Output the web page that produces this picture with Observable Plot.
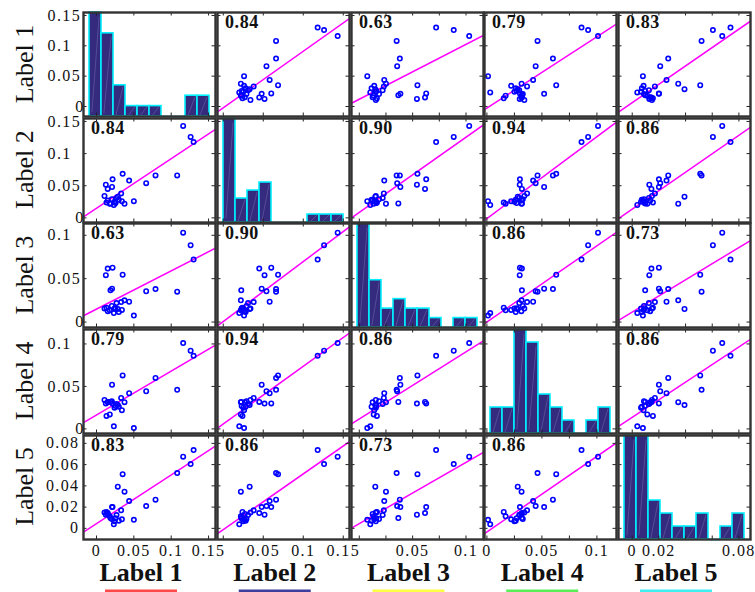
<!DOCTYPE html>
<html>
<head>
<meta charset="utf-8">
<script src="https://cdn.jsdelivr.net/npm/d3@7"></script>
<script src="https://cdn.jsdelivr.net/npm/@observablehq/plot@0.6"></script>
<style>
  html, body { margin: 0; padding: 0; background: #fff; }
  #chart { position: relative; width: 755px; height: 592px; overflow: hidden; background: #fff; }
  #chart svg { position: absolute; overflow: visible; }
  #chart g[aria-label="text"] { letter-spacing: 1.4px; }
  #chart g[aria-label="text"][font-weight="bold"] { letter-spacing: 0.6px; }
</style>
</head>
<body>
<div id="chart"></div>
<script>
// ---------------- data ----------------
const variables = ["Label 1", "Label 2", "Label 3", "Label 4", "Label 5"];

// 28 observations per variable (same observation order in every list)
const label1 = [0.116, 0.126, 0.130, 0.108, 0.079, 0.0665, 0.050, 0.035, 0.0285, 0.0375, 0.0437, 0.0208, 0.0125, 0.015, 0.0215, 0.0232, 0.0187, 0.0107, 0.0134, 0.0151, 0.0178, 0.0205, 0.0241, 0.0268, 0.0299, 0.033, 0.034, 0.0255];
const label2 = [0.143, 0.126, 0.118, 0.066, 0.066, 0.054, 0.026, 0.0685, 0.033, 0.022, 0.058, 0.048, 0.0516, 0.045, 0.060, 0.020, 0.0225, 0.034, 0.024, 0.027, 0.022, 0.029, 0.025, 0.031, 0.028, 0.038, 0.026, 0.023];
const label3 = [0.103, 0.0885, 0.072, 0.035, 0.038, 0.0355, 0.0075, 0.0545, 0.015, 0.025, 0.0234, 0.0385, 0.054, 0.0616, 0.0627, 0.0103, 0.0366, 0.0155, 0.0165, 0.0125, 0.0135, 0.0185, 0.0155, 0.0219, 0.0115, 0.023, 0.014, 0.016];
const label4 = [0.101, 0.092, 0.086, 0.046, 0.060, 0.0443, 0.001, 0.063, 0.028, 0.0315, 0.042, 0.052, 0.0298, 0.0318, 0.030, 0.003, 0.0318, 0.034, 0.0153, 0.0313, 0.017, 0.0326, 0.025, 0.0294, 0.0262, 0.0365, 0.022, 0.027];
const label5 = [0.0675, 0.0605, 0.0737, 0.052, 0.027, 0.021, 0.008, 0.051, 0.0392, 0.0345, 0.0257, 0.020, 0.0128, 0.0144, 0.020, 0.0038, 0.0097, 0.0148, 0.0155, 0.0135, 0.0113, 0.0088, 0.0066, 0.0125, 0.0072, 0.017, 0.0085, 0.0095];

// correlation labels for pairs (1,2),(1,3),(1,4),(1,5),(2,3),(2,4),(2,5),(3,4),(3,5),(4,5)
const correlations = ["0.84", "0.63", "0.79", "0.83", "0.90", "0.94", "0.86", "0.86", "0.73", "0.86"];

// axis limits and ticks per variable
const xLimits = [[-0.0174, 0.1593], [-0.0072, 0.1578], [-0.0073, 0.1164], [-0.0022, 0.1178], [-0.0103, 0.0887]];
const yLimits = [[-0.0165, 0.1549], [-0.0072, 0.1546], [-0.0063, 0.1136], [-0.0054, 0.1170], [-0.0105, 0.0874]];
const xTicks = [[0, 0.05, 0.1, 0.15], [0, 0.05, 0.1, 0.15], [0, 0.025, 0.05, 0.075, 0.1], [0, 0.025, 0.05, 0.075, 0.1], [0, 0.02, 0.04, 0.06, 0.08]];
const xTickLabels = [["0", "0.05", "0.1", "0.15"], ["0.05", "0.1", "0.15"], ["0.05", "0.1"], ["0", "0.05", "0.1"], ["0", "0.02", "0.08"]];
const yTicks = [[0, 0.05, 0.1, 0.15], [0, 0.05, 0.1, 0.15], [0, 0.05, 0.1], [0, 0.05, 0.1], [0, 0.02, 0.04, 0.06, 0.08]];
const yTickLabels = [["0", "0.05", "0.1", "0.15"], ["0", "0.05", "0.1", "0.15"], ["0", "0.05", "0.1"], ["0", "0.05", "0.1"], ["0", "0.02", "0.04", "0.06", "0.08"]];
const nBins = 10;
const underlineColors = ["#ff4848", "#3d3d9e", "#ffff44", "#58ee58", "#40eef0"];

// ---------------- layout ----------------
const rowTops = [12, 117.6, 223.2, 328.9, 434.5];
const colLefts = [83, 216.75, 350.5, 484.25, 618];
const W = 132, H = 104;
const serif = "'Liberation Serif', 'Times New Roman', Times, serif";
const frameColor = "#333333";

const series = [label1, label2, label3, label4, label5];
const table = label1.map((_, k) => Object.fromEntries(variables.map((v, i) => [v, series[i][k]])));
const chart = document.getElementById("chart");

function corrLabel(i, j) {
  const a = Math.min(i, j), b = Math.max(i, j);
  let idx = 0;
  for (let r = 0; r < a; r++) idx += 4 - r;
  return correlations[idx + b - a - 1];
}

function place(svg, left, top) {
  svg.style.left = left + "px";
  svg.style.top = top + "px";
  chart.appendChild(svg);
}

// histogram layer (own scale: data range inset in the panel)
function histogram(i) {
  const vals = series[i];
  const [lo, hi] = d3.extent(vals);
  const w = (hi - lo) / nBins;
  const counts = new Array(nBins).fill(0);
  vals.forEach(v => counts[Math.min(nBins - 1, Math.floor((v - lo) / w))]++);
  const bins = counts.map((c, k) => ({x0: lo + k * w, x1: lo + (k + 1) * w, count: c}));
  const full = bins.filter(b => b.count > 0);
  const empty = bins.filter(b => b.count === 0);
  const svg = Plot.plot({
    width: W, height: H, margin: 0,
    x: {domain: [lo, hi], range: [6, W - 6], axis: null},
    y: {domain: [0, d3.max(counts)], range: [H, 0], axis: null},
    style: "background:none;overflow:visible",
    marks: [
      Plot.rectY(full, {x1: "x0", x2: "x1", y: "count", fill: "#342a7e", stroke: "#00f0ff", strokeWidth: 1.6}),
      Plot.link(full, {x1: d => d.x0 + (d.x1 - d.x0) * 0.2, y1: d => d.count * 0.04, x2: d => d.x1 - (d.x1 - d.x0) * 0.2, y2: d => d.count * 0.96, stroke: "#8f88c4", strokeWidth: 0.6, strokeOpacity: 0.6}),
      Plot.link(empty, {x1: "x0", x2: "x1", y1: 0, y2: 0, stroke: "#00f0ff", strokeWidth: 1.6})
    ]
  });
  place(svg, colLefts[i], rowTops[i]);
}

function panel(i, j) {
  const isLeft = j === 0, isBottom = i === 4;
  const mL = isLeft ? colLefts[0] : 0;
  const mB = isBottom ? 592 - (rowTops[4] + H) : 0;
  const xd = xLimits[j], yd = yLimits[i];
  const marks = [];
  if (i !== j) {
    const xs = series[j], ys = series[i];
    const mx = d3.mean(xs), my = d3.mean(ys);
    const b = d3.sum(xs, (x, k) => (x - mx) * (ys[k] - my)) / d3.sum(xs, x => (x - mx) ** 2);
    const a = my - b * mx;
    marks.push(Plot.line(xd, {x: d => d, y: d => a + b * d, stroke: "#ff00ff", strokeWidth: 1.5, clip: true}));
    marks.push(Plot.dot(table, {x: variables[j], y: variables[i], r: 2.2, stroke: "#0000ff", strokeWidth: 1.6, fill: "none"}));
    marks.push(Plot.text([corrLabel(i, j)], {text: d => d, frameAnchor: "top-left", textAnchor: "start", lineAnchor: "top", dx: 7.5, dy: 3, fontSize: 18, fontWeight: "bold", fontFamily: serif, fill: "#111"}));
  }
  // inward tick marks on all four sides
  marks.push(Plot.ruleX(xTicks[j], {x: d => d, insetTop: H - 3.5, stroke: "#222", strokeWidth: 1}));
  marks.push(Plot.ruleX(xTicks[j], {x: d => d, insetBottom: H - 3.5, stroke: "#222", strokeWidth: 1}));
  marks.push(Plot.ruleY(yTicks[i], {y: d => d, insetRight: W - 3.5, stroke: "#222", strokeWidth: 1}));
  marks.push(Plot.ruleY(yTicks[i], {y: d => d, insetLeft: W - 3.5, stroke: "#222", strokeWidth: 1}));
  marks.push(Plot.frame({stroke: frameColor, strokeWidth: 2.4}));
  if (isLeft) {
    const vals = yTicks[i].filter((t, k) => yTickLabels[i][k] !== "0");
    const labs = yTickLabels[i].filter(s => s !== "0");
    if (i < 4) {
      marks.push(Plot.text(vals, {y: d => d, text: (d, k) => labs[k], frameAnchor: "left", textAnchor: "start", lineAnchor: "middle", dx: 47 - colLefts[0], fontSize: 16, fontFamily: serif, fill: "#111"}));
      marks.push(Plot.text([0], {y: d => d, text: () => "0", frameAnchor: "left", textAnchor: "middle", lineAnchor: "middle", dx: 79.5 - colLefts[0], fontSize: 16, fontFamily: serif, fill: "#111"}));
    } else {
      marks.push(Plot.text(yTicks[i], {y: d => d, text: (d, k) => yTickLabels[i][k], frameAnchor: "left", textAnchor: "end", lineAnchor: "middle", dx: 79 - colLefts[0], fontSize: 16, fontFamily: serif, fill: "#111"}));
    }
  }
  if (isBottom) {
    const vals = xTickLabels[j].map(Number);
    marks.push(Plot.text(vals, {x: d => d, text: (d, k) => xTickLabels[j][k], frameAnchor: "bottom", textAnchor: "middle", lineAnchor: "middle", dy: 11, fontSize: 16, fontFamily: serif, fill: "#111"}));
  }
  const svg = Plot.plot({
    width: mL + W, height: H + mB,
    marginLeft: mL, marginRight: 0, marginTop: 0, marginBottom: mB,
    x: {domain: xd, axis: null},
    y: {domain: yd, axis: null},
    style: "background:none;overflow:visible",
    marks
  });
  place(svg, colLefts[j] - mL, rowTops[i]);
}

for (let i = 0; i < 5; i++) histogram(i);
for (let i = 0; i < 5; i++) for (let j = 0; j < 5; j++) panel(i, j);

// variable names and coloured markers
const over = d3.create("svg").attr("width", 755).attr("height", 592)
  .style("left", "0px").style("top", "0px").style("pointer-events", "none")
  .style("font-family", serif);
variables.forEach((v, i) => {
  over.append("text")
    .attr("transform", `translate(33,${rowTops[i] + H / 2}) rotate(-90)`)
    .attr("text-anchor", "middle").attr("font-size", 26).attr("fill", "#111").text(v);
  const cx = colLefts[i] + W / 2 - 8;
  over.append("text")
    .attr("x", cx).attr("y", 581).attr("text-anchor", "middle")
    .attr("font-size", 26).attr("font-weight", "bold").attr("fill", "#111").text(v);
  over.append("rect").attr("x", cx - 36).attr("y", 589.5).attr("width", 72).attr("height", 3)
    .attr("fill", underlineColors[i]);
});
chart.appendChild(over.node());
</script>
</body>
</html>
